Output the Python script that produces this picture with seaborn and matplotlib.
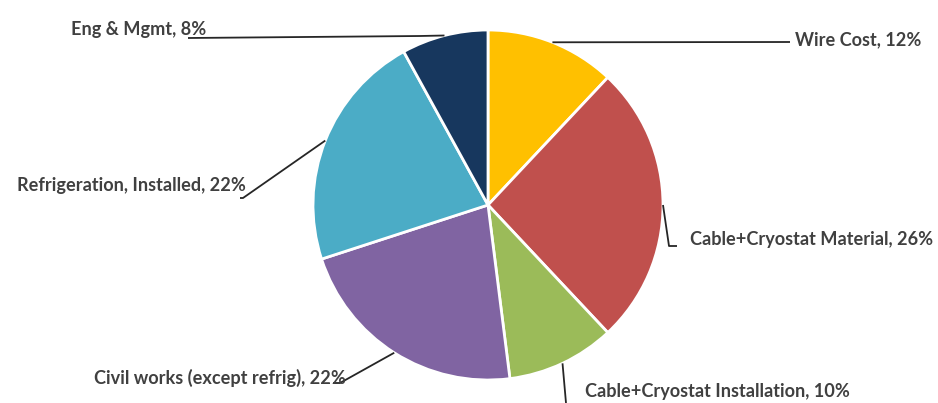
import numpy as np
import matplotlib
matplotlib.use("Agg")
import matplotlib.pyplot as plt
import seaborn as sns

categories = ["Wire Cost", "Cable+Cryostat Material", "Cable+Cryostat Installation",
              "Civil works (except refrig)", "Refrigeration, Installed", "Eng & Mgmt"]
shares = [12, 26, 10, 22, 22, 8]
colors = ["#FFC000", "#C0504D", "#9BBB59", "#8064A2", "#4BACC6", "#17375E"]

sns.set_theme(style="white")
plt.rcParams["font.family"] = ["Lato", "DejaVu Sans"]

W, H = 938, 403
fig = plt.figure(figsize=(W / 100, H / 100), dpi=100)
ax = fig.add_axes([0, 0, 1, 1])

cx, cy, r = 488, H - 205, 175
wedges, _ = ax.pie(shares, colors=colors, startangle=90, counterclock=False,
                   center=(cx, cy), radius=r, frame=True,
                   wedgeprops=dict(edgecolor="white", linewidth=2))
ax.set_xlim(0, W)
ax.set_ylim(0, H)
ax.set_aspect("equal")
ax.axis("off")

# leader layout per slice: (elbow point, end point, text position, alignment), in pixels from top-left
layout = [
    ((790, 42), (790, 42), (795, 40), "left"),
    ((669, 246), (677, 246), (690, 240), "left"),
    ((566, 403), (566, 403), (585, 392), "left"),
    ((340, 383), (333, 383), (346, 378), "right"),
    ((243, 198), (240, 198), (246, 185), "right"),
    ((420, 36), (188, 38), (206, 30), "right"),
]

for w, cat, val, (elb, end, tpos, ha) in zip(wedges, categories, shares, layout):
    mid = np.deg2rad((w.theta1 + w.theta2) / 2)
    ax_pt = (cx + r * np.cos(mid), cy + r * np.sin(mid))
    xs = [ax_pt[0], elb[0], end[0]]
    ys = [ax_pt[1], H - elb[1], H - end[1]]
    ax.plot(xs, ys, color="#262626", lw=1.3, solid_capstyle="butt", clip_on=False)
    ax.text(tpos[0], H - tpos[1], f"{cat}, {val}%", ha=ha, va="center",
            fontsize=13.1, color="#404040", fontweight="bold")

fig.savefig("out.png", dpi=100, facecolor="white")
